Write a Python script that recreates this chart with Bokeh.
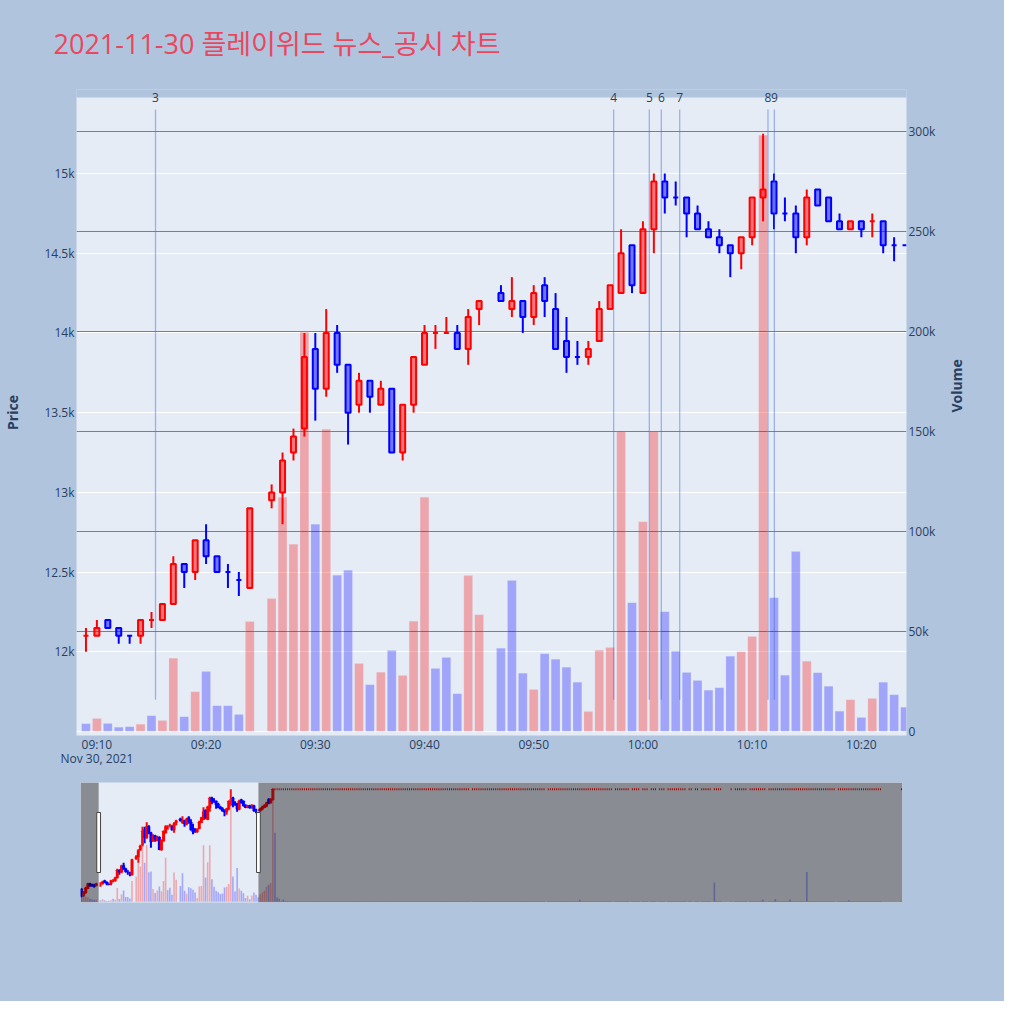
import math
import pandas as pd
from bokeh.plotting import figure
from bokeh.models import (Range1d, LinearAxis, NumeralTickFormatter, FixedTicker,
                          DatetimeTickFormatter, Grid, Label, BoxAnnotation,
                          ColumnDataSource)
from bokeh.layouts import column, row
from bokeh.embed import file_html
from bokeh.resources import INLINE

DAY = "2021-11-30"
TITLE = "2021-11-30 플레이위드 뉴스_공시 차트"

# ---------------- data (1-minute candles) ----------------
times = [
    "09:00", "09:01", "09:02", "09:03", "09:04", "09:05", "09:06", "09:07",
    "09:09", "09:10", "09:11", "09:12", "09:13", "09:14", "09:15", "09:16", "09:17", "09:18", "09:19",
    "09:20", "09:21", "09:22", "09:23", "09:24", "09:26", "09:27", "09:28", "09:29",
    "09:30", "09:31", "09:32", "09:33", "09:34", "09:35", "09:36", "09:37", "09:38", "09:39",
    "09:40", "09:41", "09:42", "09:43", "09:44", "09:45", "09:47", "09:48", "09:49",
    "09:50", "09:51", "09:52", "09:53", "09:54", "09:55", "09:56", "09:57", "09:58", "09:59",
    "10:00", "10:01", "10:02", "10:03", "10:04", "10:05", "10:06", "10:07", "10:08", "10:09",
    "10:10", "10:11", "10:12", "10:13", "10:14", "10:15", "10:16", "10:17", "10:18", "10:19",
    "10:20", "10:21", "10:22", "10:23", "10:24",
    "10:25", "10:26", "10:27", "10:28", "10:29", "10:30", "10:31",
]
opens = [
    11900, 11700, 11800, 11950, 12100, 12050, 12050, 12050,
    12100, 12100, 12200, 12150, 12100, 12100, 12200, 12200, 12300, 12550, 12500,
    12700, 12600, 12500, 12450, 12400, 12950, 13000, 13250, 13400,
    13900, 13650, 14000, 13800, 13550, 13700, 13550, 13650, 13250, 13550,
    13800, 14000, 14000, 14000, 13900, 14150, 14250, 14150, 14200,
    14100, 14300, 14150, 13950, 13850, 13850, 13950, 14150, 14250, 14550,
    14250, 14650, 14950, 14850, 14850, 14750, 14650, 14600, 14550, 14500,
    14600, 14850, 14950, 14750, 14750, 14600, 14900, 14850, 14700, 14650,
    14700, 14700, 14700, 14550, 14550,
    14550, 14600, 14650, 14700, 14900, 14800, 14900,
]
highs = [
    11950, 11850, 12000, 12100, 12100, 12100, 12100, 12100,
    12150, 12200, 12200, 12150, 12100, 12200, 12250, 12300, 12600, 12550, 12700,
    12800, 12600, 12550, 12500, 12900, 13050, 13250, 13400, 14000,
    14000, 14150, 14050, 13800, 13750, 13700, 13700, 13650, 13550, 13850,
    14050, 14050, 14100, 14050, 14150, 14200, 14300, 14350, 14200,
    14300, 14350, 14250, 14100, 13950, 13950, 14200, 14300, 14650, 14550,
    14700, 15000, 15000, 14950, 14850, 14800, 14700, 14650, 14550, 14600,
    14850, 15250, 15000, 14850, 14800, 14900, 14900, 14850, 14750, 14700,
    14700, 14750, 14700, 14600, 14550,
    14600, 14700, 14750, 14800, 14950, 14950, 15250,
]
lows = [
    11650, 11700, 11800, 11950, 12000, 12000, 12000, 12050,
    12000, 12100, 12150, 12050, 12050, 12050, 12150, 12200, 12300, 12400, 12450,
    12550, 12500, 12400, 12350, 12400, 12900, 12800, 13200, 13350,
    13450, 13600, 13750, 13300, 13500, 13500, 13550, 13250, 13200, 13500,
    13800, 13900, 14000, 13900, 13800, 14050, 14200, 14100, 14000,
    14050, 14100, 13900, 13750, 13800, 13800, 13950, 14150, 14250, 14250,
    14250, 14500, 14750, 14800, 14600, 14650, 14600, 14500, 14350, 14400,
    14550, 14700, 14650, 14700, 14500, 14550, 14800, 14700, 14650, 14650,
    14600, 14600, 14500, 14450, 14550,
    14500, 14550, 14650, 14650, 14750, 14800, 14900,
]
closes = [
    11700, 11800, 11950, 12100, 12050, 12050, 12000, 12100,
    12100, 12150, 12150, 12100, 12100, 12200, 12200, 12300, 12550, 12500, 12700,
    12600, 12500, 12500, 12450, 12900, 13000, 13200, 13350, 13850,
    13650, 14000, 13800, 13500, 13700, 13600, 13650, 13250, 13550, 13850,
    14000, 14000, 14000, 13900, 14100, 14200, 14200, 14200, 14100,
    14250, 14200, 13900, 13850, 13850, 13900, 14150, 14300, 14500, 14300,
    14650, 14950, 14850, 14850, 14750, 14650, 14600, 14550, 14500, 14600,
    14850, 14900, 14750, 14750, 14600, 14850, 14800, 14700, 14650, 14700,
    14650, 14700, 14550, 14550, 14550,
    14600, 14650, 14700, 14800, 14800, 14900, 15250,
]
volumes = [
    30000, 18000, 14000, 12000, 8000, 6000, 5000, 6000,
    3700, 6300, 3800, 2000, 2200, 3500, 7700, 5300, 36500, 7200, 19700,
    29800, 12700, 12700, 8300, 54800, 66300, 117000, 93500, 199500,
    103500, 151000, 78000, 80500, 33800, 23200, 29500, 40300, 27800, 55000,
    117000, 31300, 36800, 18700, 77800, 58200, 41500, 75300, 29000,
    20800, 38700, 36000, 32000, 24500, 9800, 40500, 41800, 150000, 64200,
    104700, 150000, 59700, 40000, 29300, 25300, 20500, 21700, 37500, 39700,
    47300, 298000, 66700, 28000, 89800, 35000, 29200, 22500, 10000, 15700,
    6800, 16300, 24500, 18200, 12000,
    20000, 25000, 30000, 40000, 45000, 50000, 300000,
]

# rest of the day: trading at the upper limit price (runs of traded minutes)
limit_price = 15250
limit_runs = [
    ("10:32", "12:04"), ("12:06", "12:40"), ("12:42", "13:12"), ("13:14", "13:20"),
    ("13:22", "13:25"), ("13:27", "13:29"), ("13:31", "13:33"), ("13:35", "13:37"),
    ("13:39", "13:47"), ("13:49", "13:50"), ("13:52", "13:53"), ("13:55", "13:59"),
    ("14:01", "14:04"), ("14:09", "14:09"), ("14:11", "14:16"), ("14:18", "14:25"),
    ("14:27", "14:58"), ("15:00", "15:20"), ("15:30", "15:30"),
]
limit_volume_small = 1500
limit_volume_marked = {"10:32": 183000, "10:33": 12000, "10:34": 8000, "10:36": 6000,
                       "12:57": 5000, "14:01": 51000, "14:24": 6000, "14:30": 7000,
                       "14:37": 6000, "14:45": 79000, "15:05": 4000}

# news / disclosure markers
event_labels = ["3", "4", "5", "6", "7", "8", "9"]
event_times = ["09:15:22", "09:57:19", "10:00:35", "10:01:41", "10:03:22", "10:11:27", "10:12:02"]

price_ticks = [12000, 12500, 13000, 13500, 14000, 14500, 15000]
volume_ticks = [50000, 100000, 150000, 200000, 250000, 300000]
time_ticks = ["09:10", "09:20", "09:30", "09:40", "09:50", "10:00", "10:10", "10:20"]

# ---------------- helpers ----------------
def ts(t):
    return pd.Timestamp(f"{DAY} {t}")

def ms(t):
    return ts(t).value / 1e6

MIN = 60000.0
PAPER = "#B0C4DE"
PLOT_BG = "#E5ECF6"
FONT = "'Open Sans', 'Noto Sans CJK KR', sans-serif"
TXT = "#2a3f5f"
W = 1004

rows = pd.DataFrame({"t": [ts(t) for t in times], "o": opens, "h": highs,
                     "l": lows, "c": closes, "v": volumes})
extra = []
for a, b in limit_runs:
    for t in pd.date_range(ts(a), ts(b), freq="1min"):
        key = t.strftime("%H:%M")
        extra.append({"t": t, "o": limit_price, "h": limit_price, "l": limit_price,
                      "c": limit_price, "v": limit_volume_marked.get(key, limit_volume_small)})
df = pd.concat([rows, pd.DataFrame(extra)], ignore_index=True)

# candle direction (plotly rule) and volume colour (vs previous close)
cols, vcols = [], []
prev_c, prev_up = None, True
for o, c in zip(df["o"], df["c"]):
    if c > o:
        up = True
    elif c < o:
        up = False
    elif prev_c is None:
        up = True
    elif c > prev_c:
        up = True
    elif c < prev_c:
        up = False
    else:
        up = prev_up
    cols.append("#FF0000" if up else "#0000FF")
    vcols.append("#FF0000" if (prev_c is not None and c > prev_c) else "#0000FF")
    prev_c, prev_up = c, up
df["col"] = cols
df["vcol"] = vcols
df["btop"] = df[["o", "c"]].max(axis=1)
df["bbot"] = df[["o", "c"]].min(axis=1)

PR = (11475, 15477)          # visible price range of the plot area
VR = (-2150, 316850)         # visible volume range of the plot area
FRAME_H = 638                # plot-area height in px
STRIP = 8                    # px of paper band above the plot area (room for marker labels)
PR_EXT = (PR[0], PR[1] + STRIP * (PR[1] - PR[0]) / FRAME_H)
VR_EXT = (VR[0], VR[1] + STRIP * (VR[1] - VR[0]) / FRAME_H)
BODY_W = 0.46 * MIN
BAR_W = 0.8 * MIN
X0, X1 = "09:08:08", "10:24:08"

# main view only needs the candles that reach into its window
in_view = (df["t"] >= ts(X0) - pd.Timedelta(seconds=30)) & (df["t"] <= ts(X1) + pd.Timedelta(seconds=30))
src_main = ColumnDataSource(df[in_view].reset_index(drop=True))
src_all = ColumnDataSource(df)


def draw_series(fig, src):
    fig.segment("t", "h", "t", "btop", line_color="col", line_width=2, source=src)
    fig.segment("t", "bbot", "t", "l", line_color="col", line_width=2, source=src)
    fig.vbar(x="t", width=BODY_W, top="btop", bottom="bbot", fill_color="col",
             fill_alpha=0.5, line_color="col", line_width=2, source=src)
    fig.vbar(x="t", width=BAR_W, top="v", bottom=0, y_range_name="vol",
             fill_color="vcol", fill_alpha=0.3, line_color=PLOT_BG, line_width=0.5,
             line_alpha=0.3, source=src)


# ---------------- title band ----------------
TH = 89
tf = figure(width=W, height=TH, x_range=Range1d(0, W), y_range=Range1d(0, TH),
            output_backend="svg", toolbar_location=None,
            x_axis_location=None, y_axis_location=None,
            min_border_left=0, min_border_right=0, min_border_top=0, min_border_bottom=0,
            background_fill_color=PAPER, border_fill_color=PAPER, outline_line_color=None,
            styles={"background-color": PAPER})
tf.grid.visible = False
tf.add_layout(Label(x=53, y=TH - 43, text=TITLE, text_align="left",
                    text_baseline="alphabetic", text_font=FONT, text_font_size="27px",
                    text_color="#E9475E"))

# ---------------- main chart ----------------
p = figure(width=W, height=775 - TH, x_axis_type="datetime",
           x_range=Range1d(ms(X0), ms(X1)),
           y_range=Range1d(*PR_EXT), output_backend="svg", toolbar_location=None,
           min_border_left=76, min_border_right=98, min_border_top=97 - STRIP - TH,
           min_border_bottom=40,
           background_fill_color=PLOT_BG, border_fill_color=PAPER, outline_line_color=None,
           styles={"background-color": PAPER})
p.extra_y_ranges = {"vol": Range1d(*VR_EXT)}

p.xgrid.visible = False
p.ygrid.ticker = FixedTicker(ticks=price_ticks)
p.ygrid.grid_line_color = "white"
p.ygrid.grid_line_width = 1
p.add_layout(Grid(dimension=1, ticker=FixedTicker(ticks=volume_ticks), y_range_name="vol",
                  grid_line_color="#7F7F7F", grid_line_width=1))
p.add_layout(Grid(dimension=1, ticker=FixedTicker(ticks=[0]), y_range_name="vol",
                  grid_line_color="white", grid_line_width=1))

draw_series(p, src_main)

# event markers
ev_y0 = PR[0] + 0.056 * (PR[1] - PR[0])
ev_y1 = PR[0] + 0.981 * (PR[1] - PR[0])
ev = ColumnDataSource({"t": [ms(t) for t in event_times],
                       "y0": [ev_y0] * len(event_times), "y1": [ev_y1] * len(event_times)})
p.segment("t", "y0", "t", "y1", line_color="royalblue", line_alpha=0.45, line_width=1.3, source=ev)

# paper band above the plot area (glyph), then the marker numbers on the edge
p.quad(left=[ms(X0) - MIN], right=[ms(X1) + MIN], bottom=[PR[1]], top=[PR_EXT[1] + 100],
       fill_color=PAPER, fill_alpha=1.0, line_color=None)
for lab, t in zip(event_labels, event_times):
    p.add_layout(Label(x=ms(t), y=PR[1], text=lab, text_align="center",
                       text_baseline="middle", text_font=FONT, text_font_size="12px",
                       text_color=TXT))

# axes
ya = p.yaxis[0]
ya.ticker = FixedTicker(ticks=price_ticks)
ya.formatter = NumeralTickFormatter(format="0.[0]a")
ya.axis_label = "Price"
vol_axis = LinearAxis(y_range_name="vol", ticker=FixedTicker(ticks=[0] + volume_ticks),
                      formatter=NumeralTickFormatter(format="0a"), axis_label="Volume")
p.add_layout(vol_axis, "right")

xa = p.xaxis[0]
xa.ticker = FixedTicker(ticks=[ms(t) for t in time_ticks])
date_fmt = "%b %d, %Y"
xa.formatter = DatetimeTickFormatter(
    minutes="%H:%M", hourmin="%H:%M", hours="%H:%M", minsec="%H:%M",
    strip_leading_zeros=False,
    context=DatetimeTickFormatter(minutes=date_fmt, hourmin=date_fmt, hours=date_fmt,
                                  minsec=date_fmt, days=date_fmt, strip_leading_zeros=False),
    context_which="start")

for ax in [ya, vol_axis, xa]:
    ax.axis_line_color = None
    ax.major_tick_line_color = None
    ax.minor_tick_line_color = None
    ax.major_tick_out = 0
    ax.major_tick_in = 0
    ax.minor_tick_out = 0
    ax.minor_tick_in = 0
    ax.major_label_text_font = FONT
    ax.major_label_text_font_size = "12px"
    ax.major_label_text_color = TXT
    ax.axis_label_text_font = FONT
    ax.axis_label_text_font_size = "14px"
    ax.axis_label_text_font_style = "bold"
    ax.axis_label_text_color = TXT
ya.major_label_standoff = 2
ya.axis_label_standoff = 19
vol_axis.major_label_standoff = 2
vol_axis.axis_label_standoff = 18
vol_axis.axis_label_orientation = math.pi / 2
xa.major_label_standoff = 0
xa.major_label_text_line_height = 0.85

# ---------------- range-slider overview ----------------
o = figure(width=W, height=226, x_axis_type="datetime",
           x_range=Range1d(ms("08:59:30"), ms("15:30:30")), y_range=Range1d(*PR),
           output_backend="svg", toolbar_location=None,
           x_axis_location=None, y_axis_location=None,
           min_border_left=80, min_border_right=102, min_border_top=7, min_border_bottom=99,
           background_fill_color=PLOT_BG, border_fill_color=PAPER, outline_line_color=None,
           styles={"background-color": PAPER})
o.extra_y_ranges = {"vol": Range1d(*VR)}
o.grid.visible = False
draw_series(o, src_all)

w0, w1 = ms(X0), ms(X1)
o.add_layout(BoxAnnotation(right=w0, fill_color="black", fill_alpha=0.4, line_color=None))
o.add_layout(BoxAnnotation(left=w1, fill_color="black", fill_alpha=0.4, line_color=None))
hb = PR[0] + 0.25 * (PR[1] - PR[0])
ht = PR[0] + 0.75 * (PR[1] - PR[0])
for edge in (w0, w1):
    o.add_layout(BoxAnnotation(left=edge - 0.9 * MIN, right=edge + 0.9 * MIN, bottom=hb, top=ht,
                               fill_color="white", fill_alpha=1.0, line_color="#444444",
                               line_width=1, line_alpha=1.0))

bg = {"background-color": PAPER}
layout = column(row(tf, styles=bg), p, row(o, styles=bg), styles=bg)
open("out.html", "w").write(file_html(layout, INLINE))
